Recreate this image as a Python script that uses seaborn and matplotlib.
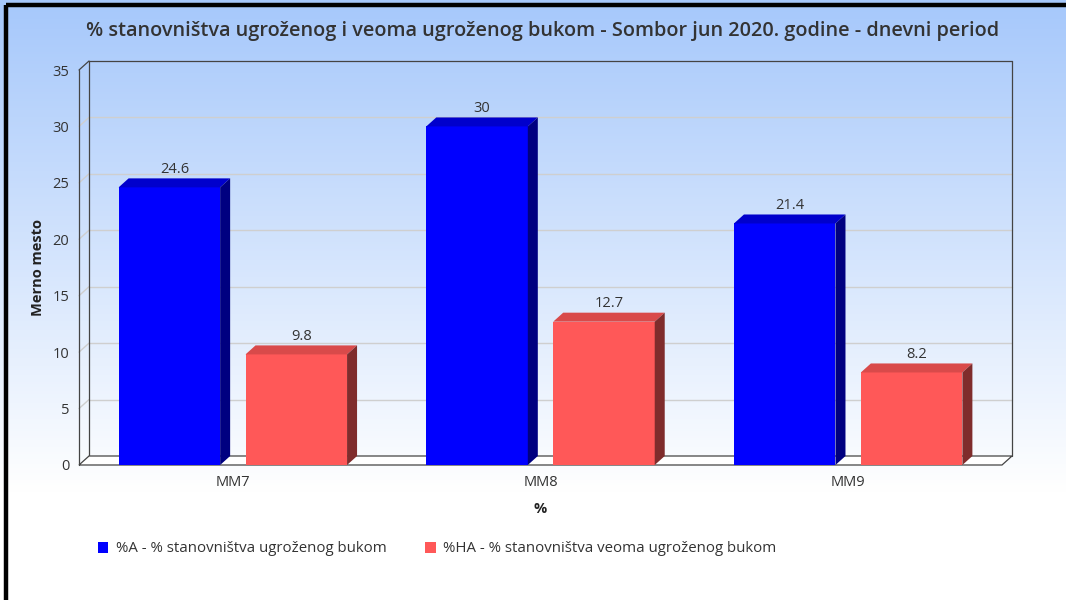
import numpy as np
import pandas as pd
import matplotlib
matplotlib.use("Agg")
import matplotlib.pyplot as plt
import seaborn as sns
from matplotlib.patches import Polygon, Patch
from matplotlib.colors import LinearSegmentedColormap

# ---------------- data ----------------
categories = ["MM7", "MM8", "MM9"]
series_names = ["%A - % stanovništva ugroženog bukom",
                "%HA - % stanovništva veoma ugroženog bukom"]
values_a = [24.6, 30, 21.4]
values_ha = [9.8, 12.7, 8.2]
y_ticks = [0, 5, 10, 15, 20, 25, 30, 35]
title = "% stanovništva ugroženog i veoma ugroženog bukom - Sombor jun 2020. godine - dnevni period"
y_label = "Merno mesto"
x_label = "%"

front_colors = ["#0000ff", "#ff5858"]
top_colors = ["#0000cc", "#d94a4a"]
side_colors = ["#000080", "#7f2c2c"]

sns.set_theme(style="white")
plt.rcParams["font.family"] = ["Open Sans", "DejaVu Sans"]
TXT = "#333333"

W, H = 1066, 600
fig = plt.figure(figsize=(W / 100, H / 100), dpi=100)

# background gradient
bg = fig.add_axes([0, 0, 1, 1], zorder=-10)
cmap = LinearSegmentedColormap.from_list("bg", [(0, "#a6c8fb"), (0.82, "#ffffff"), (1, "#ffffff")])
grad = np.linspace(0, 1, 600).reshape(-1, 1)
bg.imshow(grad, cmap=cmap, aspect="auto", extent=[0, 1, 0, 1], origin="upper")
bg.set_xlim(0, 1); bg.set_ylim(0, 1)
bg.axis("off")
# outer black border (left and top)
bg.plot([6 / W, 6 / W], [0, 1 - 5 / H], color="black", lw=3.2, solid_capstyle="butt")
bg.plot([6 / W, 1], [1 - 5 / H, 1 - 5 / H], color="black", lw=3.2, solid_capstyle="butt")

ax = fig.add_axes([79 / W, (H - 465) / H, 923 / W, 395 / H])
ax.patch.set_alpha(0)

df = pd.DataFrame({
    "cat": categories * 2,
    "val": values_a + values_ha,
    "series": [series_names[0]] * 3 + [series_names[1]] * 3,
})
sns.barplot(data=df, x="cat", y="val", hue="series", hue_order=series_names,
            palette=front_colors, width=0.825, gap=0.2, saturation=1,
            ax=ax, legend=False, linewidth=0, zorder=3)

ax.set_xlim(-0.5, 2.5)
ax.set_ylim(0, 35)
for s in ax.spines.values():
    s.set_visible(False)
ax.grid(False)

# depth offsets converted from pixels to data units
dx_px, dy_px = 10, 9
dx = dx_px * 3.0 / ax.bbox.width
dy = dy_px * 35.0 / ax.bbox.height
x0, x1 = -0.5, 2.5
ytop = 35
LC = "#444444"
GC = "#cfcfcf"

# floor
ax.add_patch(Polygon([(x0, 0), (x1, 0), (x1 + dx, dy), (x0 + dx, dy)], closed=True,
                     facecolor="white", edgecolor=LC, lw=0.9, zorder=1, clip_on=False))
# gridlines on back wall and left wall
for t in y_ticks[1:-1]:
    ax.plot([x0 + dx, x1 + dx], [t + dy, t + dy], color=GC, lw=1, zorder=0.5, clip_on=False)
    ax.plot([x0, x0 + dx], [t, t + dy], color=GC, lw=1, zorder=0.5, clip_on=False)
# frame lines
frame = [
    ([x0, x0], [0, ytop]),
    ([x0 + dx, x0 + dx], [dy, ytop + dy]),
    ([x0, x0 + dx], [ytop, ytop + dy]),
    ([x0 + dx, x1 + dx], [ytop + dy, ytop + dy]),
    ([x1 + dx, x1 + dx], [dy, ytop + dy]),
]
for xs, ys in frame:
    ax.plot(xs, ys, color=LC, lw=0.9, zorder=0.8, clip_on=False)

# 3D faces + value labels
for ci, container in enumerate(ax.containers):
    for bar in container:
        bx0 = bar.get_x()
        bw = bar.get_width()
        h = bar.get_height()
        bx1 = bx0 + bw
        ax.add_patch(Polygon([(bx0, h), (bx1, h), (bx1 + dx, h + dy), (bx0 + dx, h + dy)],
                             closed=True, facecolor=top_colors[ci], edgecolor="none",
                             zorder=3, clip_on=False))
        ax.add_patch(Polygon([(bx1, 0), (bx1, h), (bx1 + dx, h + dy), (bx1 + dx, dy)],
                             closed=True, facecolor=side_colors[ci], edgecolor="none",
                             zorder=3, clip_on=False))
        ax.annotate(f"{h:g}", (bx0 + bw / 2 + dx / 2, h + dy), xytext=(0, 1.0),
                    textcoords="offset points", ha="center", va="bottom",
                    fontsize=10.5, color=TXT, zorder=5)

ax.set_yticks(y_ticks)
ax.tick_params(axis="y", length=0, pad=7, labelsize=10.5, labelcolor=TXT)
ax.tick_params(axis="x", length=0, pad=7, labelsize=10.5, labelcolor=TXT)
ax.set_ylabel(y_label, fontsize=10.5, fontweight="bold", color="#222222", labelpad=5)
ax.set_xlabel(x_label, fontsize=10.5, fontweight="bold", color="#222222", labelpad=8.5)

fig.text(543 / W, 1 - 31 / H, title, ha="center", va="center", fontsize=14.3,
         fontweight="semibold", color=TXT)

handles = [Patch(facecolor=c, edgecolor="none") for c in front_colors]
fig.legend(handles, series_names, loc="center left", bbox_to_anchor=(84 / W, 51 / H),
           frameon=False, ncol=2, fontsize=10.8, handlelength=0.7, handleheight=0.7,
           handletextpad=0.5, columnspacing=2.6, labelcolor=TXT)

fig.savefig("out.png", dpi=100)
